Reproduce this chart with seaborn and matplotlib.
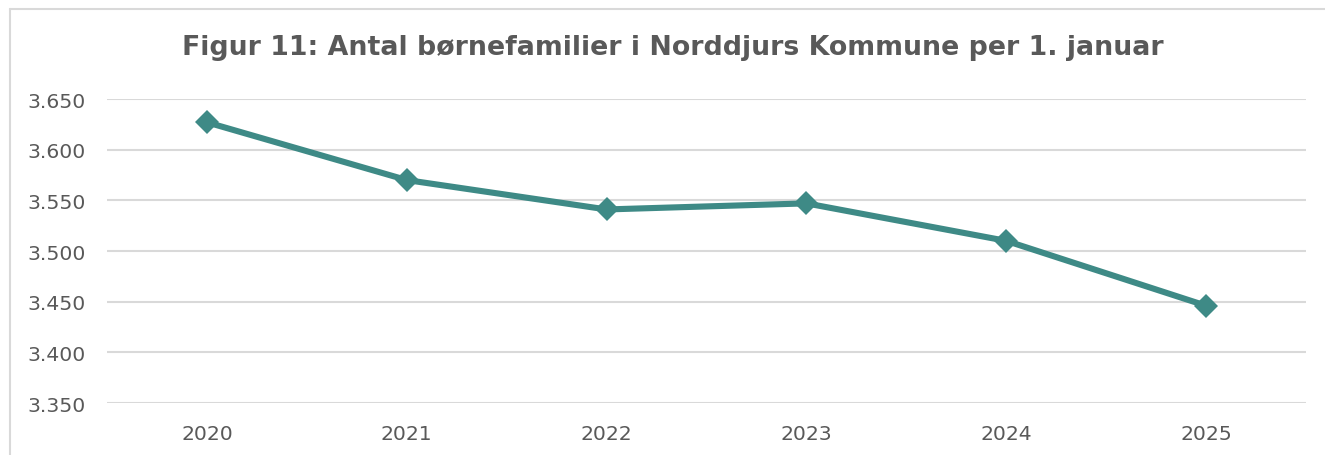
import matplotlib
matplotlib.use("Agg")
import matplotlib.pyplot as plt
import seaborn as sns
import pandas as pd
from matplotlib.lines import Line2D

years = ["2020", "2021", "2022", "2023", "2024", "2025"]
families = [3627, 3570, 3541, 3547, 3510, 3446]
y_ticks = [3350, 3400, 3450, 3500, 3550, 3600, 3650]
title = "Figur 11: Antal børnefamilier i Norddjurs Kommune per 1. januar"

sns.set_theme(style="white")
plt.rcParams['font.family'] = ['DejaVu Sans']

df = pd.DataFrame({"year": years, "value": families})

W, H = 1325, 456
fig = plt.figure(figsize=(W / 100, H / 100), dpi=100)
ax = fig.add_axes([107 / W, 1 - 404 / H, (1306 - 107) / W, (404 - 100) / H])

sns.lineplot(data=df, x="year", y="value", ax=ax, color="#3e8a86",
             linewidth=4.4, marker="D", markersize=12, markeredgewidth=0,
             sort=False)

ax.set_xlim(-0.5, len(years) - 0.5)
ax.set_ylim(y_ticks[0], y_ticks[-1])
ax.set_yticks(y_ticks)
ax.set_yticklabels([f"{v/1000:.3f}" for v in y_ticks])
ax.yaxis.grid(True, color="#d9d9d9", linewidth=1.5)
ax.xaxis.grid(False)
for s in ax.spines.values():
    s.set_visible(False)
ax.set_xlabel("")
ax.set_ylabel("")
ax.tick_params(axis="both", length=0, labelsize=14.7, colors="#595959")
ax.tick_params(axis="y", pad=15)
ax.tick_params(axis="x", pad=15)

fig.text(673 / W, 1 - 48 / H, title, ha="center", va="center",
         fontsize=19.3, fontweight="bold", color="#595959")

bx, by = 9.5 / W, 1 - 9.5 / H
fig.lines.append(Line2D([bx, bx], [0, by], transform=fig.transFigure,
                        color="#d9d9d9", linewidth=1.5))
fig.lines.append(Line2D([bx, 1], [by, by], transform=fig.transFigure,
                        color="#d9d9d9", linewidth=1.5))

fig.savefig("out.png", dpi=100)
